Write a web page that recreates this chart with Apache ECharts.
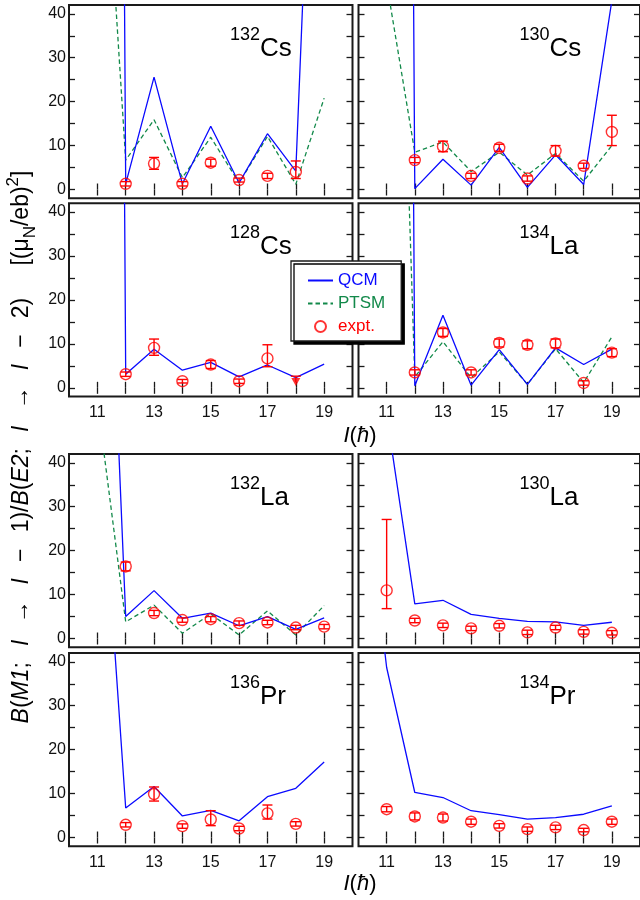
<!DOCTYPE html>
<html><head><meta charset="utf-8">
<script src="https://cdn.jsdelivr.net/npm/echarts@6/dist/echarts.min.js"></script>
<style>html,body{margin:0;padding:0;background:#fff;}#c{width:640px;height:900px;}</style>
</head><body><div id="c"></div>
<script>
// ---------------- data ----------------
const xTicks = [11,12,13,14,15,16,17,18,19];
const xLabels = [11,13,15,17,19];
const yTicks = [0,5,10,15,20,25,30,35,40];
const yLabels = [0,10,20,30,40];

// 132Cs
const cs132_I = [11,12,13,14,15,16,17,18,19];
const cs132_QCM = [1000,1.3,25.6,1.3,14.4,1.5,12.7,4.2,162];
const cs132_PTSM = [108,6.7,15.9,2.7,11.9,1.5,12.1,1.2,20.8];
const cs132_expI = [12,13,14,15,16,17,18];
const cs132_exp = [1.3,5.9,1.3,6.1,2.15,3.1,4.0];
const cs132_expLo = [0.8,4.6,0.8,5.3,1.7,2.5,2.5];
const cs132_expHi = [1.8,7.3,1.8,6.9,2.6,3.7,6.5];
// 130Cs
const cs130_I = [11,12,13,14,15,16,17,18,19];
const cs130_QCM = [1000,0.2,6.9,1.0,9.6,0.5,7.9,1.15,43];
const cs130_PTSM = [47,8.5,10.8,4.1,8.5,3.3,8.2,1.9,10.0];
const cs130_expI = [12,13,14,15,16,17,18,19];
const cs130_exp = [6.7,9.8,3.1,9.5,2.5,8.8,5.4,13.1];
const cs130_expLo = [6.1,8.6,2.5,8.7,1.9,7.6,4.8,10.0];
const cs130_expHi = [7.3,11.0,3.7,10.3,3.1,10.0,6.0,16.9];
// 128Cs
const cs128_I = [11,12,13,14,15,16,17,18,19];
const cs128_QCM = [1000,3.1,8.8,4.0,5.8,2.5,5.2,2.3,5.4];
const cs128_expI = [12,13,14,15,16,17];
const cs128_exp = [3.1,9.1,1.5,5.3,1.5,6.7];
const cs128_expLo = [2.6,7.4,1.1,4.4,1.0,4.8];
const cs128_expHi = [3.6,11.1,1.9,6.2,2.0,9.8];
const cs128_limI = [18];
const cs128_lim = [1.3];
const cs128_limHi = [2.65];
// 134La
const la134_I = [11,12,13,14,15,16,17,18,19];
const la134_QCM = [1000,0.45,16.5,0.6,8.7,0.8,9.1,5.3,8.8];
const la134_PTSM = [200,2.5,10.5,2.3,8.2,0.8,8.9,1.2,11.6];
const la134_expI = [12,13,14,15,16,17,18,19];
const la134_exp = [3.5,12.6,3.5,10.2,9.8,10.1,1.1,8.0];
const la134_expLo = [2.9,11.7,2.9,9.3,8.9,9.1,0.6,7.1];
const la134_expHi = [4.1,13.5,4.1,11.1,10.7,11.1,1.6,8.9];
// 132La
const la132_I = [11,12,13,14,15,16,17,18,19];
const la132_QCM = [160,5.0,10.9,4.6,5.8,2.9,5.0,2.1,4.7];
const la132_PTSM = [54,3.8,7.6,1.2,5.6,0.8,6.3,0.8,7.5];
const la132_expI = [12,13,14,15,16,17,18,19];
const la132_exp = [16.4,5.8,4.2,4.4,3.5,3.65,2.5,2.7];
const la132_expLo = [15.4,5.2,3.7,3.8,3.0,3.15,2.0,2.2];
const la132_expHi = [17.4,6.4,4.7,5.0,4.0,4.15,3.0,3.2];
// 130La
const la130_I = [11,12,13,14,15,16,17,18,19];
const la130_QCM = [51,7.9,8.7,5.5,4.6,3.9,3.8,3.0,3.7];
const la130_expI = [11,12,13,14,15,16,17,18,19];
const la130_exp = [10.95,4.1,3.0,2.3,2.9,1.4,2.5,1.5,1.3];
const la130_expLo = [6.8,3.6,2.5,1.8,2.4,0.9,2.0,1.0,0.8];
const la130_expHi = [27.1,4.6,3.5,2.8,3.4,1.9,3.0,2.0,1.8];
// 136Pr
const pr136_I = [11,12,13,14,15,16,17,18,19];
const pr136_QCM = [100,6.7,11.6,4.9,6.2,3.8,9.3,11.2,17.2];
const pr136_expI = [12,13,14,15,16,17,18];
const pr136_exp = [2.9,9.9,2.6,4.1,2.05,5.5,3.1];
const pr136_expLo = [2.4,8.3,2.1,2.7,1.55,4.2,2.6];
const pr136_expHi = [3.4,11.5,3.1,6.1,2.55,7.4,3.6];
// 134Pr
const pr134_I = [10,11,12,13,14,15,16,17,18,19];
const pr134_QCM = [93,38.7,10.25,9.1,6.1,5.2,4.2,4.55,5.3,7.2];
const pr134_expI = [11,12,13,14,15,16,17,18,19];
const pr134_exp = [6.45,4.8,4.55,3.6,2.65,1.9,2.3,1.7,3.6];
const pr134_expLo = [5.85,4.0,3.75,3.0,2.15,1.4,1.8,1.3,3.0];
const pr134_expHi = [7.05,5.6,5.35,4.2,3.15,2.4,2.8,2.1,4.2];

// ---------------- layout / style ----------------
const FONT = "'Liberation Sans', Arial, Helvetica, sans-serif";
const BLUE = '#0a0aff', GREEN = '#12894a', RED = '#ff0000', INK = '#1a1a1a';
const colLeft = [69, 358.5], colWidth = [283.5, 283];
const rowTop = [5, 203.3, 454, 653], rowH = 193.3;

const panels = [
  {A:'132', el:'Cs', col:0, row:0, I:cs132_I, Q:cs132_QCM, P:cs132_PTSM, eI:cs132_expI, e:cs132_exp, lo:cs132_expLo, hi:cs132_expHi},
  {A:'130', el:'Cs', col:1, row:0, I:cs130_I, Q:cs130_QCM, P:cs130_PTSM, eI:cs130_expI, e:cs130_exp, lo:cs130_expLo, hi:cs130_expHi},
  {A:'128', el:'Cs', col:0, row:1, I:cs128_I, Q:cs128_QCM, eI:cs128_expI, e:cs128_exp, lo:cs128_expLo, hi:cs128_expHi,
     limI:cs128_limI, lim:cs128_lim, limHi:cs128_limHi},
  {A:'134', el:'La', col:1, row:1, I:la134_I, Q:la134_QCM, P:la134_PTSM, eI:la134_expI, e:la134_exp, lo:la134_expLo, hi:la134_expHi},
  {A:'132', el:'La', col:0, row:2, I:la132_I, Q:la132_QCM, P:la132_PTSM, eI:la132_expI, e:la132_exp, lo:la132_expLo, hi:la132_expHi},
  {A:'130', el:'La', col:1, row:2, I:la130_I, Q:la130_QCM, eI:la130_expI, e:la130_exp, lo:la130_expLo, hi:la130_expHi},
  {A:'136', el:'Pr', col:0, row:3, I:pr136_I, Q:pr136_QCM, eI:pr136_expI, e:pr136_exp, lo:pr136_expLo, hi:pr136_expHi},
  {A:'134', el:'Pr', col:1, row:3, I:pr134_I, Q:pr134_QCM, eI:pr134_expI, e:pr134_exp, lo:pr134_expLo, hi:pr134_expHi}
];

const grids = [], xAxes = [], yAxes = [], series = [], graphics = [];
const tickStyle = {color: INK, width: 1.3};

function errRender(params, api) {
  const x = api.value(0);
  const pl = api.coord([x, api.value(2)]);
  const ph = api.coord([x, api.value(3)]);
  const capLo = api.value(4);
  const w = 5;
  const st = {stroke: RED, lineWidth: 1.4};
  const ch = [
    {type:'line', shape:{x1:pl[0], y1:pl[1], x2:ph[0], y2:ph[1]}, style:st},
    {type:'line', shape:{x1:ph[0]-w, y1:ph[1], x2:ph[0]+w, y2:ph[1]}, style:st}
  ];
  if (capLo) ch.push({type:'line', shape:{x1:pl[0]-w, y1:pl[1], x2:pl[0]+w, y2:pl[1]}, style:st});
  return {type:'group', children: ch};
}

panels.forEach((p, gi) => {
  const L = colLeft[p.col], T = rowTop[p.row], W = colWidth[p.col];
  const isLeft = p.col === 0, isBottom = (p.row === 1 || p.row === 3);
  grids.push({left:L, top:T, width:W, height:rowH, show:true, borderColor:INK, borderWidth:2, backgroundColor:'transparent'});
  const xBase = {type:'value', gridIndex:gi, min:10, max:20, axisLine:{show:false}, splitLine:{show:false},
    axisTick:{show:true, inside:true, length:6, customValues:xTicks, lineStyle:tickStyle}};
  xAxes.push(Object.assign({}, xBase, {position:'bottom',
    axisLabel:{show:isBottom, customValues:xLabels, fontSize:16, color:'#111', margin:8, fontFamily:FONT}}));
  xAxes.push(Object.assign({}, xBase, {position:'top', axisLabel:{show:false}}));
  const yBase = {type:'value', gridIndex:gi, min:-2, max:42, axisLine:{show:false}, splitLine:{show:false},
    axisTick:{show:true, inside:true, length:6, customValues:yTicks, lineStyle:tickStyle}};
  yAxes.push(Object.assign({}, yBase, {position:'left',
    axisLabel:{show:isLeft, customValues:yLabels, fontSize:16, color:'#111', margin:3, fontFamily:FONT}}));
  yAxes.push(Object.assign({}, yBase, {position:'right', axisLabel:{show:false}}));

  const ax = {xAxisIndex: 2*gi, yAxisIndex: 2*gi};
  if (p.P) series.push(Object.assign({type:'line', name:'PTSM', data:p.I.map((x,i)=>[x, p.P[i]]), symbol:'none', clip:true,
    lineStyle:{color:GREEN, width:1.3, type:[4.5,3]}, itemStyle:{color:GREEN}, z:3, silent:true}, ax));
  series.push(Object.assign({type:'line', name:'QCM', data:p.I.map((x,i)=>[x, p.Q[i]]), symbol:'none', clip:true,
    lineStyle:{color:BLUE, width:1.3}, itemStyle:{color:BLUE}, z:4, silent:true}, ax));
  series.push(Object.assign({type:'scatter', name:'expt.', data:p.eI.map((x,i)=>[x, p.e[i]]), symbol:'circle', symbolSize:11,
    itemStyle:{color:'rgba(255,255,255,0)', borderColor:RED, borderWidth:1.4}, z:5, silent:true}, ax));
  series.push(Object.assign({type:'custom', name:'err', renderItem:errRender, encode:{x:0, y:[1,2,3]},
    data:p.eI.map((x,i)=>[x, p.e[i], p.lo[i], p.hi[i], 1]), z:6, silent:true}, ax));
  if (p.limI) {
    series.push(Object.assign({type:'custom', name:'errlim', renderItem:errRender, encode:{x:0, y:[1,2,3]},
      data:p.limI.map((x,i)=>[x, p.lim[i], p.lim[i], p.limHi[i], 0]), z:6, silent:true}, ax));
    series.push(Object.assign({type:'scatter', name:'limit', data:p.limI.map((x,i)=>[x, p.lim[i]]), symbol:'triangle',
      symbolRotate:180, symbolSize:[9,8], itemStyle:{color:RED}, z:6, silent:true}, ax));
  }
  graphics.push({type:'text', x:L+191, y:T+30, style:{text:p.A, font:'18px ' + FONT, fill:'#000', align:'right', verticalAlign:'middle'}});
  graphics.push({type:'text', x:L+191, y:T+44, style:{text:p.el, font:'26px ' + FONT, fill:'#000', align:'left', verticalAlign:'middle'}});
});

const FS = 23;
const rich = {
  n:{fontSize:FS, fontFamily:FONT, lineHeight:34, fill:'#000'},
  i:{fontSize:FS, fontFamily:FONT, fontStyle:'italic', lineHeight:34, fill:'#000'},
  sub:{fontSize:17, fontFamily:FONT, lineHeight:16, verticalAlign:'bottom', fill:'#000'},
  sup:{fontSize:17, fontFamily:FONT, lineHeight:16, verticalAlign:'top', fill:'#000'}
};
const xrich = {
  n:{fontSize:22, fontFamily:FONT, lineHeight:30, fill:'#000'},
  i:{fontSize:22, fontFamily:FONT, fontStyle:'italic', lineHeight:30, fill:'#000'}
};
const S = '\u2002\u2009';
const yTitle = '{i|B}{n|(}{i|M1}{n|;' + S + '}{i|I}{n|' + S + '→' + S + '}{i|I}{n|' + S + '−' + S + '1)/}{i|B}{n|(}{i|E2}{n|;' + S + '}{i|I}{n|' + S + '→' + S + '}{i|I}{n|' + S + '−' + S + '2)' + S + S + '[(μ}{sub|N}{n|/eb)}{sup|2}{n|]}';
graphics.push({type:'text', x:22, y:447, rotation:Math.PI/2, style:{text:yTitle, rich:rich, align:'center', verticalAlign:'middle'}});
const xTitle = '{i|I}{n|(}{i|ħ}{n|)}';
graphics.push({type:'text', x:360, y:436, style:{text:xTitle, rich:xrich, align:'center', verticalAlign:'middle'}});
graphics.push({type:'text', x:360, y:884, style:{text:xTitle, rich:xrich, align:'center', verticalAlign:'middle'}});

const chart = echarts.init(document.getElementById('c'), null, {renderer:'canvas'});
chart.setOption({
  animation:false,
  backgroundColor:'#fff',
  grid:grids, xAxis:xAxes, yAxis:yAxes, series:series,
  legend:{
    left:291, top:261, orient:'vertical', itemWidth:25, itemHeight:11, itemGap:6, itemTextGap:8,
    padding:[11,16,6,16], backgroundColor:'#fff', borderColor:INK, borderWidth:1.3,
    shadowColor:'#000', shadowBlur:0, shadowOffsetX:3, shadowOffsetY:3,
    selectedMode:false,
    textStyle:{fontSize:17, fontFamily:FONT},
    data:[
      {name:'QCM', textStyle:{color:BLUE}, itemStyle:{opacity:0}},
      {name:'PTSM', textStyle:{color:GREEN}, itemStyle:{opacity:0}},
      {name:'expt.', textStyle:{color:RED}}
    ]
  },
  graphic:graphics
});
</script></body></html>
